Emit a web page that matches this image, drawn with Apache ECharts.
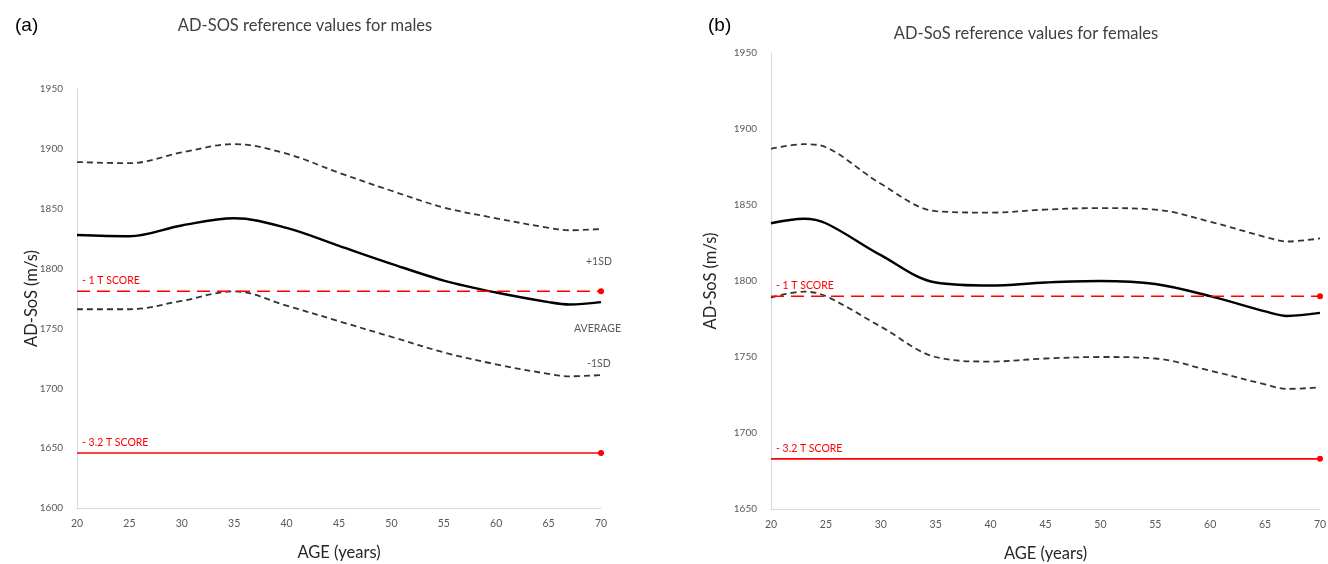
<!DOCTYPE html>
<html>
<head>
<meta charset="utf-8">
<script src="https://cdn.jsdelivr.net/npm/echarts@6/dist/echarts.min.js"></script>
<style>
    html, body { margin: 0; padding: 0; background: #fff; }
    #chart { width: 1328px; height: 564px; }
</style>
</head>
<body>
<div id="chart"></div>
<script>
// males (a)
var agesM = [20, 25, 30, 35, 40, 45, 50, 55, 60, 65, 67, 70];
var plusSdM = [1889, 1888, 1897, 1904, 1896, 1880, 1865, 1851, 1842, 1834, 1832, 1833];
var meanM = [1828, 1827, 1836, 1842, 1834, 1819, 1804, 1790, 1780, 1772, 1770, 1772];
var minusSdM = [1766, 1766, 1773, 1781, 1769, 1756, 1743, 1730, 1720, 1712, 1710, 1711];
var tScore1M = 1781;
var tScore32M = 1646;

// females (b)
var agesF = [20, 23, 25, 30, 35, 40, 45, 50, 55, 60, 65, 67, 70];
var plusSdF = [1887, 1890, 1888, 1864, 1846, 1845, 1847, 1848, 1847, 1839, 1829, 1826, 1828];
var meanF = [1838, 1841, 1838, 1817, 1799, 1797, 1799, 1800, 1798, 1790, 1780, 1777, 1779];
var minusSdF = [1789, 1793, 1790, 1770, 1750, 1747, 1749, 1750, 1749, 1741, 1732, 1729, 1730];
var tScore1F = 1790;
var tScore32F = 1683;

var font = 'Lato';
var grey = '#595959';

function pairs(xs, ys) {
    return xs.map(function (x, i) { return [x, ys[i]]; });
}

function curve(idx, xs, ys, dashed, width) {
    return {
        type: 'line',
        xAxisIndex: idx,
        yAxisIndex: idx,
        data: pairs(xs, ys),
        smooth: 0.35,
        showSymbol: false,
        lineStyle: {color: dashed ? '#333' : '#000', width: width, type: dashed ? [6, 4] : 'solid'},
        z: 3
    };
}

function tLine(idx, value, text, dashed) {
    return {
        type: 'line',
        xAxisIndex: idx,
        yAxisIndex: idx,
        data: [
            {value: [20, value], symbol: 'circle', symbolSize: 0,
                label: {show: true, formatter: text, position: [5, -16], color: '#ff0000', fontSize: 10.5, fontFamily: font}},
            {value: [70, value], symbol: 'circle', symbolSize: 6}
        ],
        showSymbol: true,
        itemStyle: {color: '#ff0000'},
        lineStyle: {color: '#ff0000', width: 1.6, type: dashed ? [13, 7] : 'solid'},
        z: 4
    };
}

function xAx(idx) {
    return {
        type: 'value', gridIndex: idx, min: 20, max: 70, interval: 5,
        name: 'AGE (years)', nameLocation: 'middle', nameGap: 36,
        nameTextStyle: {fontSize: 16.5, color: '#262626', fontFamily: font},
        axisLine: {show: true, lineStyle: {color: '#d9d9d9'}},
        axisTick: {show: false},
        splitLine: {show: false},
        axisLabel: {color: grey, fontSize: 10.5, fontFamily: font, margin: 10}
    };
}

function yAx(idx, min, gap) {
    return {
        type: 'value', gridIndex: idx, min: min, max: 1950, interval: 50,
        name: 'AD-SoS (m/s)', nameLocation: 'middle', nameGap: gap, nameMoveOverlap: false,
        nameTextStyle: {fontSize: 16.5, color: '#262626', fontFamily: font},
        axisLine: {show: true, lineStyle: {color: '#d9d9d9'}},
        axisTick: {show: false},
        splitLine: {show: false},
        axisLabel: {color: grey, fontSize: 10, fontFamily: font, margin: 14,
            formatter: function (v) { return String(v); }}
    };
}

var chart = echarts.init(document.getElementById('chart'));
var option = {
    animation: false,
    backgroundColor: '#fff',
    title: [
        {text: 'AD-SOS reference values for males', left: 300, top: 12, textAlign: 'center',
            textStyle: {fontSize: 16.5, fontWeight: 'normal', color: '#404040', fontFamily: font}},
        {text: 'AD-SoS reference values for females', left: 1021, top: 20, textAlign: 'center',
            textStyle: {fontSize: 16.5, fontWeight: 'normal', color: '#404040', fontFamily: font}},
        {text: '(a)', left: 10, top: 11, textStyle: {fontSize: 19, fontWeight: 'normal', color: '#000', fontFamily: 'Liberation Sans'}},
        {text: '(b)', left: 703, top: 11, textStyle: {fontSize: 19, fontWeight: 'normal', color: '#000', fontFamily: 'Liberation Sans'}}
    ],
    grid: [
        {left: 77, top: 89, width: 524, height: 419, outerBoundsMode: 'none'},
        {left: 771, top: 53, width: 549, height: 456, outerBoundsMode: 'none'}
    ],
    xAxis: [xAx(0), xAx(1)],
    yAxis: [yAx(0, 1600, 37), yAx(1, 1650, 52)],
    graphic: [
        {type: 'text', left: 586, top: 256, style: {text: '+1SD', fill: grey, fontSize: 10.5, fontFamily: font}},
        {type: 'text', left: 574, top: 323, style: {text: 'AVERAGE', fill: grey, fontSize: 10.5, fontFamily: font}},
        {type: 'text', left: 587, top: 358, style: {text: '-1SD', fill: grey, fontSize: 10.5, fontFamily: font}}
    ],
    series: [
        curve(0, agesM, plusSdM, true, 1.8),
        curve(0, agesM, meanM, false, 2.4),
        curve(0, agesM, minusSdM, true, 1.8),
        tLine(0, tScore1M, '- 1 T SCORE', true),
        tLine(0, tScore32M, '- 3.2 T SCORE', false),
        curve(1, agesF, plusSdF, true, 1.8),
        curve(1, agesF, meanF, false, 2.4),
        curve(1, agesF, minusSdF, true, 1.8),
        tLine(1, tScore1F, '- 1 T SCORE', true),
        tLine(1, tScore32F, '- 3.2 T SCORE', false)
    ]
};
chart.setOption(option);
window.addEventListener('resize', function () {
    chart.resize();
});
</script>
</body>
</html>
